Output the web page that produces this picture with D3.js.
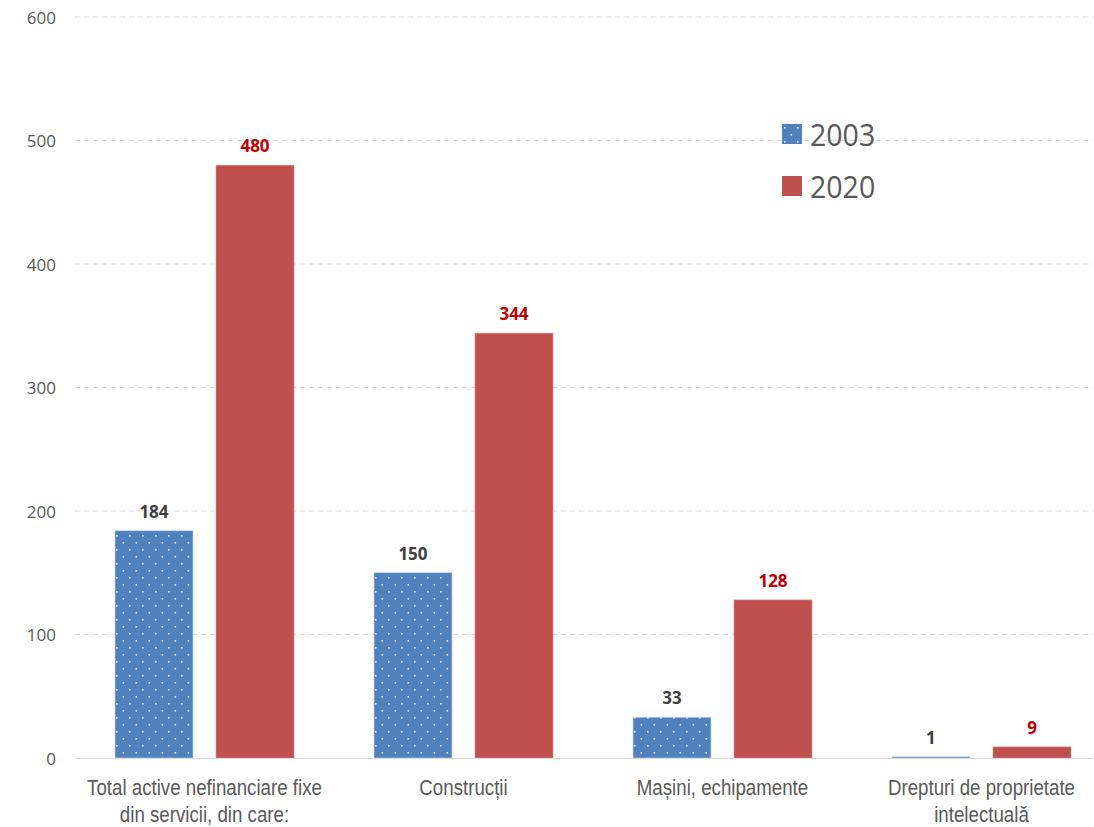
<!DOCTYPE html>
<html>
<head>
<meta charset="utf-8">
<script src="https://cdn.jsdelivr.net/npm/d3@7/dist/d3.min.js"></script>
<style>
  html, body { margin: 0; padding: 0; background: #fff; }
  svg { display: block; }
</style>
</head>
<body>
<svg id="chart" width="1094" height="827"></svg>
<script>
// Active nefinanciare fixe din servicii (mld. lei)
const categories = [
  ["Total active nefinanciare fixe", "din servicii, din care:"],
  ["Construcții"],
  ["Mașini, echipamente"],
  ["Drepturi de proprietate", "intelectuală"]
];
const seriesNames = ["2003", "2020"];
const values2003 = [184, 150, 33, 1];
const values2020 = [480, 344, 128, 9];
const yTicks = [0, 100, 200, 300, 400, 500, 600];

const W = 1094, H = 827;
const svg = d3.select("#chart");

const colors = { "2003": "#4F81BD", "2020": "#C0504D" };
const labelColors = { "2003": "#404040", "2020": "#C00000" };

// dotted fill for the 2003 series
const defs = svg.append("defs");
const pat = defs.append("pattern")
  .attr("id", "dots")
  .attr("patternUnits", "userSpaceOnUse")
  .attr("width", 13).attr("height", 14)
  .attr("x", 2).attr("y", 3);
pat.append("rect").attr("width", 13).attr("height", 14).attr("fill", colors["2003"]);
pat.append("rect").attr("x", 0).attr("y", 0).attr("width", 1.6).attr("height", 1.6).attr("fill", "#E8EEF8");
pat.append("rect").attr("x", 6.5).attr("y", 7).attr("width", 1.6).attr("height", 1.6).attr("fill", "#E8EEF8");

const plotLeft = 75, plotRight = 1093;
const y = d3.scaleLinear().domain([0, 600]).range([758, 17]);
const x0 = d3.scaleBand().domain(d3.range(categories.length)).range([75, 1111]).paddingInner(0).paddingOuter(0);
const x1 = d3.scaleBand().domain(seriesNames).range([40, 219]).paddingInner(0.228);

// gridlines
svg.append("g").selectAll("line")
  .data(yTicks.filter(t => t > 0))
  .join("line")
  .attr("x1", plotLeft).attr("x2", plotRight)
  .attr("y1", d => y(d)).attr("y2", d => y(d))
  .attr("stroke", "#D9D9D9").attr("stroke-width", 1)
  .attr("stroke-dasharray", "5,4");

// y axis labels
const yAxis = d3.axisLeft(y).tickValues(yTicks).tickSize(0).tickPadding(0);
const gy = svg.append("g").attr("transform", "translate(56,0)").call(yAxis);
gy.select(".domain").remove();
gy.selectAll("text")
  .attr("fill", "#595959")
  .attr("dy", "0.36em")
  .style("font-family", "'Open Sans', 'Noto Sans', sans-serif")
  .style("font-size", "17px");

const rows = categories.map((c, i) => ({ i, v: { "2003": values2003[i], "2020": values2020[i] } }));

const groups = svg.append("g").selectAll("g")
  .data(rows).join("g")
  .attr("transform", d => `translate(${x0(d.i)},0)`);

groups.selectAll("rect")
  .data(d => seriesNames.map(s => ({ s, v: d.v[s] })))
  .join("rect")
  .attr("x", d => x1(d.s))
  .attr("width", x1.bandwidth())
  .attr("y", d => y(d.v))
  .attr("height", d => y(0) - y(d.v))
  .attr("fill", d => d.s === "2003" ? "url(#dots)" : colors["2020"])
  .attr("stroke", d => d.s === "2003" ? "#C6D6EA" : "#D48C8A")
  .attr("stroke-width", 0.6);

groups.selectAll("text.val")
  .data(d => seriesNames.map(s => ({ s, v: d.v[s] })))
  .join("text")
  .attr("class", "val")
  .attr("x", d => x1(d.s) + x1.bandwidth() / 2)
  .attr("y", d => y(d.v) - 13)
  .attr("text-anchor", "middle")
  .attr("fill", d => labelColors[d.s])
  .style("font-family", "'Open Sans', 'Noto Sans', sans-serif")
  .style("font-weight", "700")
  .style("font-size", "17px")
  .text(d => d.v);

// baseline
svg.append("line")
  .attr("x1", plotLeft).attr("x2", plotRight)
  .attr("y1", y(0) + 0.5).attr("y2", y(0) + 0.5)
  .attr("stroke", "#D9D9D9").attr("stroke-width", 1.2);

// category labels (condensed)
const narrow = 0.85;
const catLabels = svg.append("g").selectAll("text")
  .data(categories.map((lines, i) => ({ lines, i })))
  .join("text")
  .attr("text-anchor", "middle")
  .attr("fill", "#595959")
  .attr("transform", d => {
    const cx = x0(d.i) + x0.bandwidth() / 2;
    return `translate(${cx},0) scale(${narrow},1)`;
  })
  .style("font-family", "'Liberation Sans', Arial, sans-serif")
  .style("font-size", "22px");
catLabels.selectAll("tspan")
  .data(d => d.lines)
  .join("tspan")
  .attr("x", 0)
  .attr("y", (d, k) => 795 + k * 27)
  .text(d => d);

// legend
const legend = svg.append("g").attr("transform", "translate(782,124)");
const li = legend.selectAll("g").data(seriesNames).join("g")
  .attr("transform", (d, i) => `translate(0,${i * 52})`);
li.append("rect")
  .attr("width", 20).attr("height", 20)
  .attr("fill", d => d === "2003" ? "url(#dots)" : colors["2020"]);
li.append("text")
  .attr("transform", "translate(28,22) scale(0.92,1)")
  .attr("fill", "#595959")
  .style("font-family", "'Open Sans', 'Noto Sans', sans-serif")
  .style("font-size", "31px")
  .text(d => d);
</script>
</body>
</html>
